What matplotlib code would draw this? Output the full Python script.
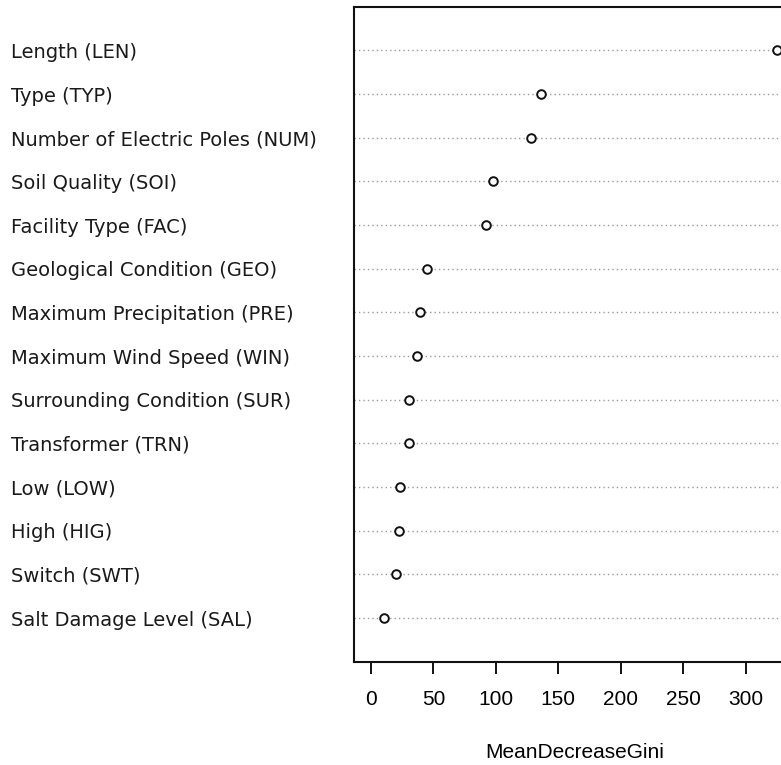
import matplotlib
matplotlib.use("Agg")
import matplotlib.pyplot as plt

# variable importance from the random forest
labels = ["Salt Damage Level (SAL)", "Switch (SWT)", "High (HIG)", "Low (LOW)",
          "Transformer (TRN)", "Surrounding Condition (SUR)",
          "Maximum Wind Speed (WIN)", "Maximum Precipitation (PRE)",
          "Geological Condition (GEO)", "Facility Type (FAC)",
          "Soil Quality (SOI)", "Number of Electric Poles (NUM)",
          "Type (TYP)", "Length (LEN)"]
gini = [10.7, 20.3, 22.2, 23.2, 30.7, 30.7, 37.1, 39.3, 44.6, 92.1, 97.5,
        128.2, 136.5, 325.0]
xticks = [0, 50, 100, 150, 200, 250, 300]

W, H = 781, 765
fig = plt.figure(figsize=(W / 100, H / 100), dpi=100)
left, right, top, bottom = 353.7, 795.5, 6.7, 661.7
ax = fig.add_axes([left / W, (H - bottom) / H, (right - left) / W, (bottom - top) / H])

ypos = list(range(1, len(gini) + 1))
xmin, xmax = -13.9, 340
ax.hlines(ypos, xmin, xmax, colors="#9a9a9a", linestyles=(0, (1, 2.2)), lw=1.0)
ax.plot(gini, ypos, "o", mfc="white", mec="#111111", mew=1.4, ms=6.2, ls="none")

ax.set_xlim(xmin, xmax)
ax.set_ylim(0, len(gini) + 1)

ax.set_yticks(ypos)
ax.set_yticklabels(labels, ha="left", fontsize=14, color="#1a1a1a",
                   family="DejaVu Sans")
ax.tick_params(axis="y", length=0, pad=(left - 11) * 0.72)

ax.set_xticks(xticks)
ax.set_xticklabels([str(t) for t in xticks], fontsize=15, family="Liberation Sans")
ax.tick_params(axis="x", length=8.5, width=1.4, pad=12, color="#111111")
ax.set_xlabel("MeanDecreaseGini", fontsize=15, family="Liberation Sans", labelpad=24)

for s in ax.spines.values():
    s.set_linewidth(1.5)
    s.set_color("#111111")

fig.savefig("out.png", dpi=100)
